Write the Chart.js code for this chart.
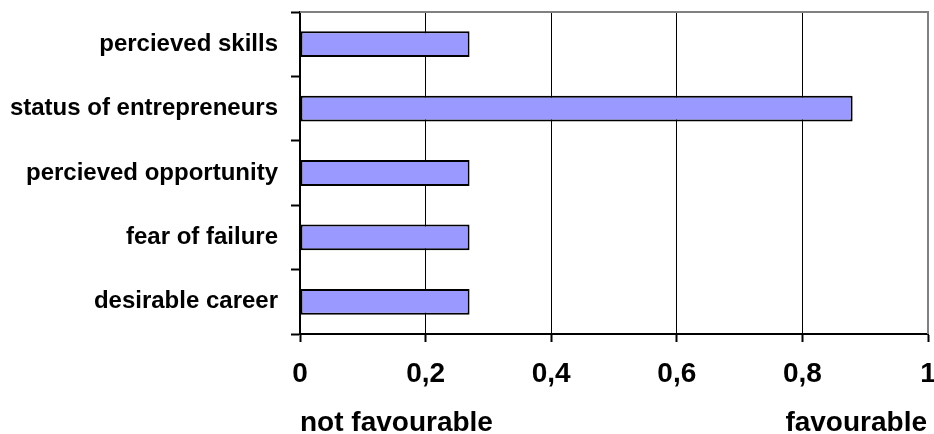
<!DOCTYPE html>
<html>
<head>
<meta charset="utf-8">
<script src="https://cdn.jsdelivr.net/npm/chart.js@4/dist/chart.umd.min.js"></script>
<style>
  html, body { margin: 0; padding: 0; background: #ffffff; }
  #wrap { width: 934px; height: 434px; position: relative; }
</style>
</head>
<body>
<div id="wrap"><canvas id="chart"></canvas></div>
<script>
// Entrepreneurial attitudes, scored from 0 (not favourable) to 1 (favourable)
const categories = [
  'percieved skills',
  'status of entrepreneurs',
  'percieved opportunity',
  'fear of failure',
  'desirable career'
];
const scores = [0.27, 0.88, 0.27, 0.27, 0.27];
const tickValues = [0, 0.2, 0.4, 0.6, 0.8, 1];
const tickLabels = ['0', '0,2', '0,4', '0,6', '0,8', '1'];
const scaleEndLabels = ['not favourable', 'favourable'];

const FONT = '"Liberation Sans", Arial, Helvetica, sans-serif';

// Grey plot frame (top and right) and the captions under both ends of the scale
const framePlugin = {
  id: 'frameAndCaptions',
  afterDraw(chart) {
    const { ctx, chartArea: a, scales: { x } } = chart;
    ctx.save();
    ctx.strokeStyle = '#808080';
    ctx.lineWidth = 2;
    ctx.beginPath();
    ctx.moveTo(a.left, a.top);
    ctx.lineTo(a.right, a.top);
    ctx.lineTo(a.right, a.bottom);
    ctx.stroke();

    ctx.font = 'bold 28px ' + FONT;
    ctx.fillStyle = '#000000';
    ctx.textBaseline = 'alphabetic';
    const baseY = x.bottom - 3;
    ctx.textAlign = 'left';
    ctx.fillText(scaleEndLabels[0], x.getPixelForValue(0), baseY);
    ctx.textAlign = 'right';
    ctx.fillText(scaleEndLabels[1], x.getPixelForValue(1) - 1, baseY);
    ctx.restore();
  }
};

new Chart(document.getElementById('chart'), {
  type: 'bar',
  data: {
    labels: categories,
    datasets: [{
      data: scores,
      backgroundColor: '#9999FF',
      borderColor: '#000000',
      borderWidth: 2,
      borderSkipped: false,
      barPercentage: 0.4,
      categoryPercentage: 1.0
    }]
  },
  options: {
    indexAxis: 'y',
    responsive: true,
    maintainAspectRatio: false,
    animation: false,
    layout: { padding: { left: 0, top: 12, right: 6, bottom: 0 } },
    plugins: {
      legend: { display: false },
      tooltip: { enabled: false }
    },
    scales: {
      x: {
        type: 'linear',
        min: 0,
        max: 1,
        afterBuildTicks(scale) {
          scale.ticks = tickValues.map(v => ({ value: v }));
        },
        afterFit(scale) {
          scale.height = 100;
          scale.paddingLeft = 0;
          scale.paddingRight = 0;
        },
        grid: {
          color: '#000000',
          lineWidth: 1,
          drawTicks: true,
          tickLength: 8,
          tickColor: '#000000',
          tickWidth: 2
        },
        border: { color: '#000000', width: 2 },
        ticks: {
          color: '#000000',
          font: { family: FONT, size: 28, weight: 'bold' },
          padding: 15,
          maxRotation: 0,
          autoSkip: false,
          callback: (v, i) => tickLabels[i]
        }
      },
      y: {
        afterFit(scale) {
          scale.width = 300;
          scale.paddingTop = 0;
          scale.paddingBottom = 0;
        },
        grid: {
          offset: true,
          drawOnChartArea: false,
          drawTicks: true,
          tickLength: 9,
          tickColor: '#000000',
          tickWidth: 2
        },
        border: { color: '#000000', width: 2 },
        ticks: {
          color: '#000000',
          font: { family: FONT, size: 24, weight: 'bold' },
          padding: 13,
          autoSkip: false
        }
      }
    }
  },
  plugins: [framePlugin]
});
</script>
</body>
</html>
